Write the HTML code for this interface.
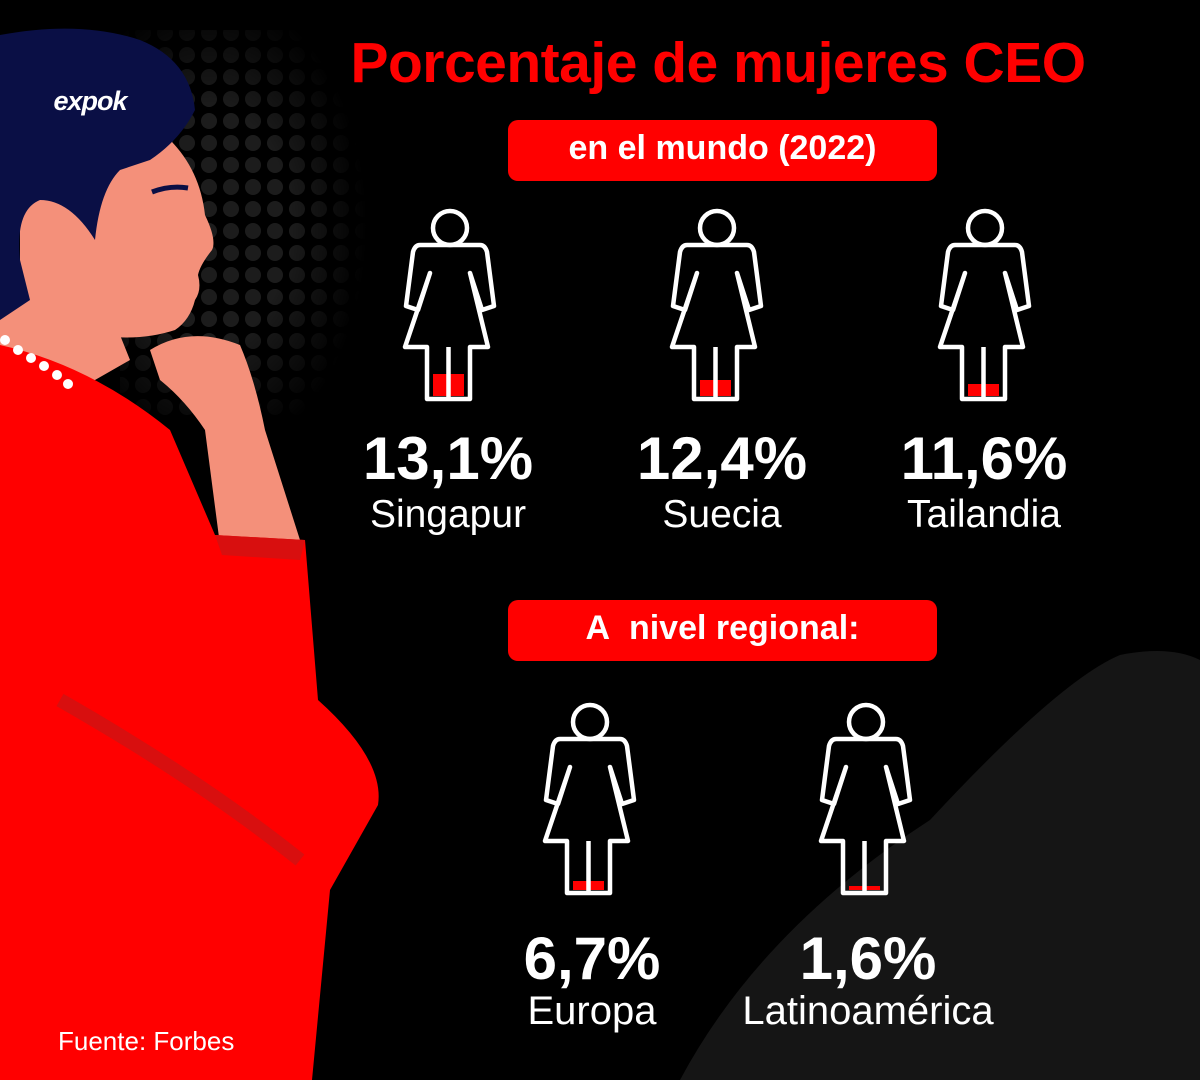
<!DOCTYPE html>
<html><head><meta charset="utf-8"><style>
html,body{margin:0;padding:0;background:#000;}
#c{position:relative;width:1200px;height:1080px;overflow:hidden;background:#000;font-family:"Liberation Sans",sans-serif;}
.t{position:absolute;text-align:center;white-space:nowrap;}
</style></head><body><div id="c">
<svg width="1200" height="1080" style="position:absolute;left:0;top:0">
<defs>
<pattern id="dots" x="0" y="0" width="22" height="22" patternUnits="userSpaceOnUse"><circle cx="11" cy="11" r="8" fill="#1c1c1c"/></pattern>
<radialGradient id="fade" cx="0.35" cy="0.5" r="0.6"><stop offset="0.5" stop-color="#fff"/><stop offset="1" stop-color="#000"/></radialGradient>
<mask id="m"><rect x="120" y="30" width="260" height="390" fill="url(#fade)"/></mask>
<g id="w" fill="none" stroke="#fff" stroke-width="4.5" stroke-linejoin="round">
<circle cx="60" cy="28" r="17"/>
<path d="M30,45 L90,45 Q95,45 97,52 L104,106 L92,110 L80,73 L98,147 L80,147 L80,199 L37,199 L37,147 L15,147 L40,73 L28,110 L16,106 L23,52 Q25,45 30,45 Z"/>
<path d="M58.5,147 L58.5,199"/>
</g>
</defs>
<rect x="120" y="30" width="260" height="390" fill="url(#dots)" mask="url(#m)"/>
<path d="M680,1080 Q760,930 930,820 Q1060,680 1120,655 Q1170,645 1200,660 L1200,1080 Z" fill="#151515"/>
<!-- neck/face -->
<path d="M0,290 L60,300 Q80,330 120,335 L130,360 L60,400 L0,380 Z" fill="#f4907a"/>
<path d="M20,150 Q90,110 170,140 Q200,170 205,215 Q217,240 212,250 Q200,265 198,275 Q202,290 195,300 Q190,320 175,330 Q130,345 70,330 L20,330 Z" fill="#f4907a"/>
<!-- hair -->
<path d="M0,35 Q80,20 140,40 Q190,60 195,110 Q180,140 150,160 L120,170 Q100,190 95,240 Q70,200 40,200 Q15,210 20,260 L30,300 L0,320 Z" fill="#0a0f45"/>
<ellipse cx="45" cy="245" rx="25" ry="38" fill="#f4907a"/>
<path d="M152,192 Q170,185 188,188" stroke="#0a0f45" stroke-width="5" fill="none"/>
<!-- forearm/hand -->
<path d="M150,350 Q190,325 240,345 Q255,380 265,430 L300,540 L220,545 L205,430 Q185,400 160,380 Z" fill="#f4907a"/>
<!-- body -->
<path d="M0,345 Q90,365 170,430 L215,535 L305,540 L318,700 Q385,760 378,805 L330,890 L312,1080 L0,1080 Z" fill="#ff0000"/>
<path d="M215,535 L305,540 L300,560 L222,555 Z" fill="#d80f0f"/>
<path d="M60,700 Q200,780 300,860" stroke="#d80f0f" stroke-width="14" fill="none"/>
<g fill="#fff"><circle cx="5" cy="340" r="5"/><circle cx="18" cy="350" r="5"/><circle cx="31" cy="358" r="5"/><circle cx="44" cy="366" r="5"/><circle cx="57" cy="375" r="5"/><circle cx="68" cy="384" r="5"/></g>
<rect x="508" y="120" width="429" height="61" rx="10" fill="#ff0000"/>
<rect x="508" y="600" width="429" height="61" rx="10" fill="#ff0000"/>
<g transform="translate(390,200)"><rect x="43" y="174" width="31" height="22" fill="#f00"/><use href="#w"/></g>
<g transform="translate(657,200)"><rect x="43" y="180" width="31" height="16" fill="#f00"/><use href="#w"/></g>
<g transform="translate(925,200)"><rect x="43" y="184" width="31" height="12" fill="#f00"/><use href="#w"/></g>
<g transform="translate(530,694)"><rect x="43" y="187" width="31" height="9" fill="#f00"/><use href="#w"/></g>
<g transform="translate(806,694)"><rect x="43" y="192" width="31" height="4" fill="#f00"/><use href="#w"/></g>
</svg>
<div class="t" style="left:20px;top:86px;width:140px;font-size:27px;font-weight:bold;color:#fff;font-style:italic;letter-spacing:-1px">expok</div>
<div class="t" style="left:318px;top:30px;width:800px;font-size:57px;font-weight:bold;color:#ff0000;letter-spacing:-0.5px">Porcentaje de mujeres CEO</div>
<div class="t" style="left:508px;top:129px;width:429px;font-size:34px;font-weight:bold;color:#fff">en el mundo (2022)</div>
<div class="t" style="left:508px;top:609px;width:429px;font-size:34px;font-weight:bold;color:#fff">A&nbsp; nivel regional:</div>
<div class="t" style="left:348px;top:424px;width:200px;font-size:60px;font-weight:bold;color:#fff">13,1%</div>
<div class="t" style="left:348px;top:493px;width:200px;font-size:39px;color:#fff">Singapur</div>
<div class="t" style="left:622px;top:424px;width:200px;font-size:60px;font-weight:bold;color:#fff">12,4%</div>
<div class="t" style="left:622px;top:493px;width:200px;font-size:39px;color:#fff">Suecia</div>
<div class="t" style="left:884px;top:424px;width:200px;font-size:60px;font-weight:bold;color:#fff">11,6%</div>
<div class="t" style="left:884px;top:493px;width:200px;font-size:39px;color:#fff">Tailandia</div>
<div class="t" style="left:492px;top:924px;width:200px;font-size:60px;font-weight:bold;color:#fff">6,7%</div>
<div class="t" style="left:492px;top:989px;width:200px;font-size:40px;color:#fff">Europa</div>
<div class="t" style="left:718px;top:924px;width:300px;font-size:60px;font-weight:bold;color:#fff">1,6%</div>
<div class="t" style="left:718px;top:989px;width:300px;font-size:40px;color:#fff">Latinoamérica</div>
<div class="t" style="left:58px;top:1026px;font-size:26px;color:#fff;text-align:left">Fuente: Forbes</div>
</div></body></html>
